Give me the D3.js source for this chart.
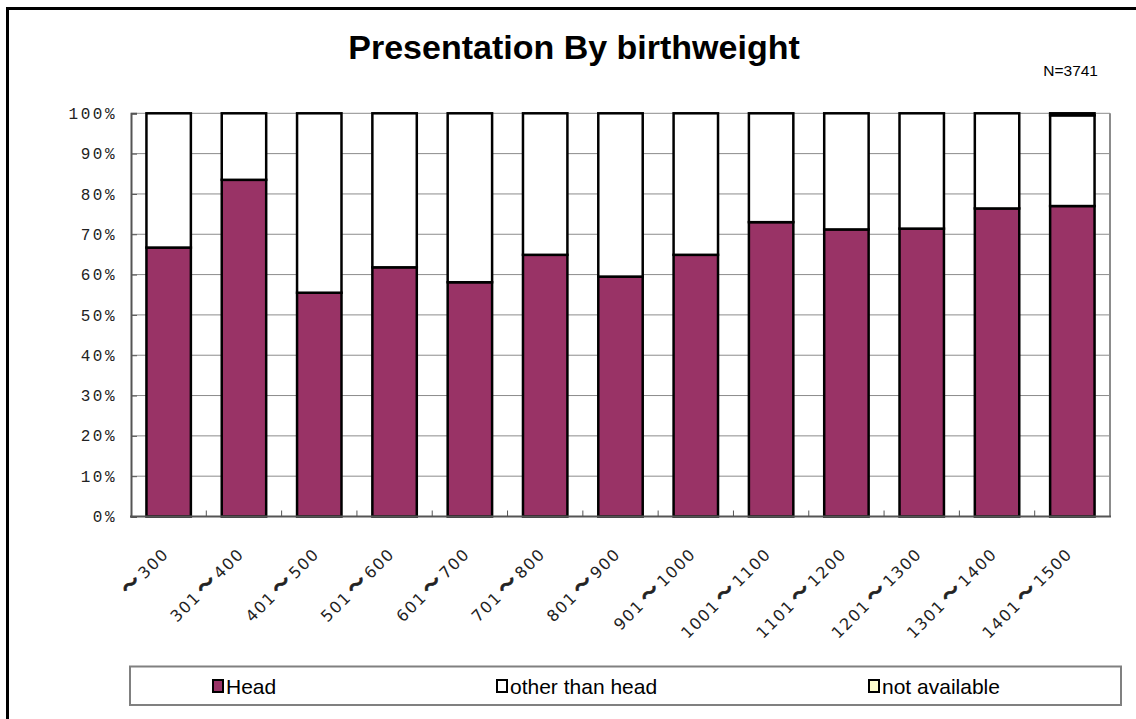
<!DOCTYPE html>
<html>
<head>
<meta charset="utf-8">
<script src="https://cdn.jsdelivr.net/npm/d3@7"></script>
<style>
  html, body { margin: 0; padding: 0; background: #fff; }
  svg { display: block; }
</style>
</head>
<body>
<svg id="chart" width="1136" height="719"></svg>
<script>
// ---- data ----
const categories = ["～300","301～400","401～500","501～600","601～700","701～800","801～900","901～1000","1001～1100","1101～1200","1201～1300","1301～1400","1401～1500"];
const headValues = [66.7, 83.5, 55.5, 61.8, 58.1, 64.9, 59.5, 64.9, 73.0, 71.2, 71.4, 76.4, 77.0];
const otherValues = [33.3, 16.5, 44.5, 38.2, 41.9, 35.1, 40.5, 35.1, 27.0, 28.8, 28.6, 23.6, 22.5];
const naValues = [0, 0, 0, 0, 0, 0, 0, 0, 0, 0, 0, 0, 0.5];
const seriesNames = ["Head", "other than head", "not available"];
const seriesColors = ["#993366", "#ffffff", "#ffffcc"];
const yTicks = [0, 10, 20, 30, 40, 50, 60, 70, 80, 90, 100];
const titleText = "Presentation By birthweight";
const noteText = "N=3741";

// ---- layout ----
const svg = d3.select("#chart");
const plot = { left: 131, right: 1110, top: 113.3, bottom: 516.5 };

const x = d3.scaleBand().domain(categories).range([plot.left, plot.right])
  .paddingInner(0.41).paddingOuter(0.205);
const y = d3.scaleLinear().domain([0, 100]).range([plot.bottom, plot.top]);

// outer frame
svg.append("path")
  .attr("d", `M7.5,730 L7.5,8.5 L1150,8.5`)
  .attr("fill", "none").attr("stroke", "#000").attr("stroke-width", 3);

// title
svg.append("text").attr("x", 574).attr("y", 59)
  .attr("text-anchor", "middle")
  .attr("font-family", "Liberation Sans, Arial, sans-serif")
  .attr("font-weight", "bold").attr("font-size", 34)
  .text(titleText);

svg.append("text").attr("x", 1098).attr("y", 76)
  .attr("text-anchor", "end")
  .attr("font-family", "Liberation Sans, Arial, sans-serif")
  .attr("font-size", 15.5)
  .text(noteText);

// gridlines
svg.append("g").selectAll("line").data(yTicks.filter(d => d > 0)).join("line")
  .attr("x1", plot.left).attr("x2", plot.right)
  .attr("y1", d => y(d)).attr("y2", d => y(d))
  .attr("stroke", "#8c8c8c").attr("stroke-width", 1);

// right border of plot area
svg.append("line").attr("x1", plot.right).attr("x2", plot.right)
  .attr("y1", plot.top).attr("y2", plot.bottom)
  .attr("stroke", "#8c8c8c").attr("stroke-width", 2);

// stacked bars
const rows = categories.map((c, i) => ({ cat: c, Head: headValues[i], "other than head": otherValues[i], "not available": naValues[i] }));
const stack = d3.stack().keys(seriesNames)(rows);
const gBars = svg.append("g");
stack.forEach((s, si) => {
  gBars.append("g").selectAll("rect").data(s.filter(d => d[1] - d[0] > 0)).join("rect")
    .attr("x", d => x(d.data.cat))
    .attr("width", x.bandwidth())
    .attr("y", d => y(d[1]))
    .attr("height", d => y(d[0]) - y(d[1]))
    .attr("fill", seriesColors[si])
    .attr("stroke", "#000").attr("stroke-width", 2.5);
});

// y axis
const yAxis = d3.axisLeft(y).tickValues(yTicks).tickSize(-6).tickPadding(14)
  .tickFormat(d => d + "%");
const gy = svg.append("g").attr("transform", `translate(${plot.left},0)`).call(yAxis);
gy.select(".domain").attr("stroke", "#555").attr("stroke-width", 2);
gy.selectAll(".tick line").attr("stroke", "#555");
gy.selectAll("text")
  .attr("font-family", "Liberation Mono, DejaVu Sans Mono, monospace")
  .attr("font-size", 16).attr("letter-spacing", 2.5).attr("fill", "#222");

// x axis
svg.append("line").attr("x1", plot.left - 1).attr("x2", plot.right + 1)
  .attr("y1", plot.bottom).attr("y2", plot.bottom)
  .attr("stroke", "#555").attr("stroke-width", 2);
const step = x.step();
svg.append("g").selectAll("line").data(categories.slice(1)).join("line")
  .attr("x1", (d, i) => plot.left + (i + 1) * step)
  .attr("x2", (d, i) => plot.left + (i + 1) * step)
  .attr("y1", plot.bottom).attr("y2", plot.bottom - 6)
  .attr("stroke", "#555");

const xl = svg.append("g").selectAll("text").data(categories).join("text")
  .attr("transform", d => `translate(${x(d) + x.bandwidth() / 2 + 1},555) rotate(-45)`)
  .attr("text-anchor", "end")
  .attr("font-family", "DejaVu Sans, sans-serif")
  .attr("font-size", 16).attr("letter-spacing", 1.5).attr("fill", "#222");
xl.each(function(d) {
  const parts = d.split("～");
  const t = d3.select(this);
  t.append("tspan").text(parts[0]);
  t.append("tspan").attr("dx", parts[0] ? 3 : 0).attr("font-family", "Noto Sans CJK JP").attr("font-weight", "bold")
    .attr("font-size", 19).attr("letter-spacing", 4)
    .attr("stroke", "#222").attr("stroke-width", 0.7).text("～");
  t.append("tspan").text(parts[1]);
});

// legend
const lg = svg.append("g");
lg.append("rect").attr("x", 130).attr("y", 666.5).attr("width", 991).attr("height", 38.5)
  .attr("fill", "#fff").attr("stroke", "#808080").attr("stroke-width", 2);
const legendX = [213, 497, 869];
seriesNames.forEach((n, i) => {
  lg.append("rect").attr("x", legendX[i]).attr("y", 680).attr("width", 10).attr("height", 12)
    .attr("fill", seriesColors[i]).attr("stroke", "#000").attr("stroke-width", 2);
  lg.append("text").attr("x", legendX[i] + 13).attr("y", 694)
    .attr("font-family", "Liberation Sans, Arial, sans-serif")
    .attr("font-size", 21)
    .text(n);
});
</script>
</body>
</html>
